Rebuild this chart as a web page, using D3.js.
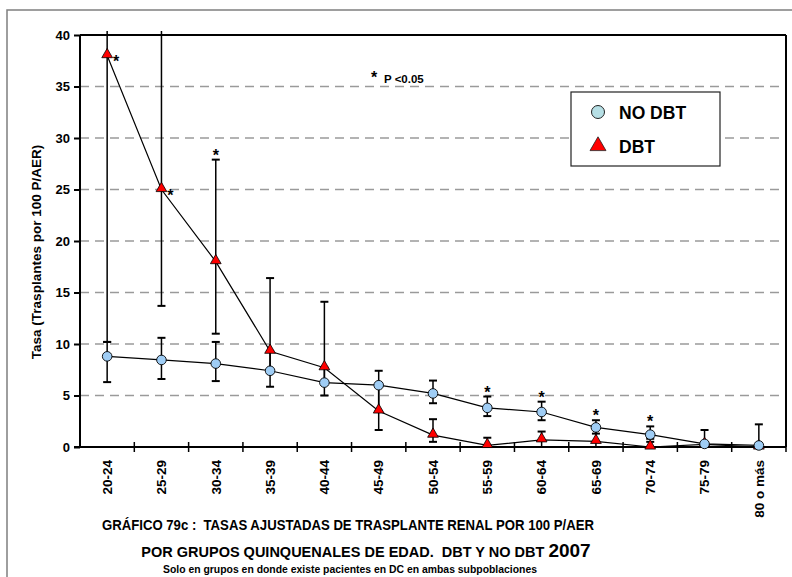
<!DOCTYPE html>
<html>
<head>
<meta charset="utf-8">
<script src="https://cdn.jsdelivr.net/npm/d3@7"></script>
<style>
  html, body { margin: 0; padding: 0; background: #fff; }
  svg { display: block; }
  text { font-family: "Liberation Sans", Arial, sans-serif; font-weight: bold; fill: #000; white-space: pre; }
  .narrow { font-family: "Liberation Sans Narrow", "Arial Narrow", "Liberation Sans", sans-serif; font-stretch: condensed; }
</style>
</head>
<body>
<svg id="chart" width="792" height="577"></svg>
<script>
// ---------------- data ----------------
const categories = ["20-24","25-29","30-34","35-39","40-44","45-49","50-54","55-59","60-64","65-69","70-74","75-79","80 o más"];
const noDbt     = [8.8, 8.45, 8.1, 7.4, 6.25, 6.0, 5.2, 3.8, 3.4, 1.9, 1.2, 0.3, 0.15];
const noDbtLow  = [6.3, 6.6, 6.4, 5.85, 5.0, 3.5, 4.25, 3.0, 2.6, 1.3, 0.8, 0, 0];
const noDbtHigh = [10.2, 10.6, 10.2, 9.3, 7.7, 7.4, 6.45, 4.9, 4.4, 2.6, 2.0, 1.65, 2.2];
const dbt       = [38, 25, 18, 9.3, 7.7, 3.5, 1.15, 0.15, 0.7, 0.55, 0.0, 0.25, 0.0];
const dbtLow    = [10.2, 13.7, 11.0, 7.4, 6.25, 1.65, 0.5, 0, 0, 0, 0, 0.25, 0];
const dbtHigh   = [45, 45, 27.9, 16.4, 14.1, 6.0, 2.7, 0.9, 1.5, 1.9, 0.5, 0.25, 0];
const starsDbtSide  = ["20-24", "25-29"];
const starsDbtAbove = ["30-34"];
const starsNoDbtAbove = ["55-59", "60-64", "65-69", "70-74"];
const yTicks = [0, 5, 10, 15, 20, 25, 30, 35, 40];
const gridTicks = [5, 10, 15, 20, 25, 30, 35];
const legendLabels = ["NO DBT", "DBT"];
const yTitle = "Tasa (Trasplantes por 100 P/AER)";
const title1 = "GRÁFICO 79c :  TASAS AJUSTADAS DE TRASPLANTE RENAL POR 100 P/AER";
const title2 = "POR GRUPOS QUINQUENALES DE EDAD.  DBT Y NO DBT ";
const title2Year = "2007";
const title3 = "Solo en grupos en donde existe pacientes en DC en ambas subpoblaciones";
const pNote = "P <0.05";

// ---------------- layout ----------------
const svg = d3.select("#chart");
const L = 80, R = 786, T = 35, B = 447;
const x = d3.scaleBand().domain(categories).range([L, R]).paddingInner(0).paddingOuter(0);
const y = d3.scaleLinear().domain([0, 40]).range([B, T]);
const cx = c => x(c) + x.bandwidth() / 2;

// outer frame
svg.append("rect").attr("x", 7).attr("y", 10).attr("width", 800).attr("height", 600)
  .attr("fill", "none").attr("stroke", "#7f7f7f").attr("stroke-width", 1.5);

// clip
svg.append("clipPath").attr("id", "clipPlot").append("rect")
  .attr("x", L - 10).attr("y", T - 4).attr("width", R - L + 20).attr("height", B - T + 14);

// gridlines
svg.append("g").selectAll("line").data(gridTicks).join("line")
  .attr("x1", L).attr("x2", R).attr("y1", d => y(d)).attr("y2", d => y(d))
  .attr("stroke", "#9a9a9a").attr("stroke-width", 1.6).attr("stroke-dasharray", "9,6");

// plot frame top/right
svg.append("line").attr("x1", L).attr("x2", R).attr("y1", T).attr("y2", T).attr("stroke", "#000").attr("stroke-width", 2);
svg.append("line").attr("x1", R).attr("x2", R).attr("y1", T).attr("y2", B).attr("stroke", "#000").attr("stroke-width", 2);

// y axis
const yAxis = svg.append("g").attr("transform", `translate(${L},0)`)
  .call(d3.axisLeft(y).tickValues(yTicks).tickSize(6).tickPadding(4).tickFormat(d3.format("d")));
yAxis.select(".domain").attr("stroke", "#000").attr("stroke-width", 2).attr("d", `M0,${T}V${B}`);
yAxis.selectAll(".tick line").attr("stroke", "#000").attr("stroke-width", 2);
yAxis.selectAll(".tick text").style("font-family", "'Liberation Sans', Arial, sans-serif")
  .style("font-weight", "bold").style("font-size", "13px").attr("fill", "#000");

// x axis line + ticks at category boundaries
svg.append("line").attr("x1", L - 6).attr("x2", R).attr("y1", B).attr("y2", B).attr("stroke", "#000").attr("stroke-width", 2);
const bounds = categories.map(c => x(c)).concat([x(categories[categories.length - 1]) + x.bandwidth()]);
svg.append("g").selectAll("line").data(bounds.slice(1)).join("line")
  .attr("x1", d => d).attr("x2", d => d).attr("y1", B - 5).attr("y2", B + 5)
  .attr("stroke", "#000").attr("stroke-width", 1.5);

// x labels
svg.append("g").selectAll("text").data(categories).join("text")
  .attr("transform", d => `translate(${cx(d)},${B + 13}) rotate(-90)`)
  .attr("text-anchor", "end").attr("dy", "0.35em")
  .style("font-size", "13.5px").text(d => d);

// y title
svg.append("text").attr("transform", `translate(41,252) rotate(-90)`)
  .attr("text-anchor", "middle").style("font-size", "13.5px").text(yTitle);

// ---------------- series ----------------
const gData = svg.append("g").attr("clip-path", "url(#clipPlot)");
const idx = d3.range(categories.length);

function errorBars(vals, lows, highs) {
  const g = gData.append("g").attr("stroke", "#000").attr("stroke-width", 1.5);
  idx.forEach(i => {
    const c = categories[i];
    g.append("line").attr("x1", cx(c)).attr("x2", cx(c)).attr("y1", y(lows[i])).attr("y2", y(highs[i]));
    [lows[i], highs[i]].forEach(v => {
      if (v !== vals[i]) g.append("line").attr("x1", cx(c) - 4).attr("x2", cx(c) + 4).attr("y1", y(v)).attr("y2", y(v)).attr("stroke-width", 2);
    });
  });
}
errorBars(dbt, dbtLow, dbtHigh);
errorBars(noDbt, noDbtLow, noDbtHigh);

const line = d3.line().x((d, i) => cx(categories[i])).y(d => y(d));
gData.append("path").datum(dbt).attr("d", line).attr("fill", "none").attr("stroke", "#000").attr("stroke-width", 1.2);
gData.append("path").datum(noDbt).attr("d", line).attr("fill", "none").attr("stroke", "#000").attr("stroke-width", 1.2);

const tri = d3.symbol().type(d3.symbolTriangle).size(50);
gData.append("g").selectAll("path").data(dbt).join("path")
  .attr("transform", (d, i) => `translate(${cx(categories[i])},${y(d) - 1})`)
  .attr("d", tri).attr("fill", "#ff0000").attr("stroke", "#000").attr("stroke-width", 0.8);

gData.append("g").selectAll("circle").data(noDbt).join("circle")
  .attr("cx", (d, i) => cx(categories[i])).attr("cy", d => y(d)).attr("r", 4.8)
  .attr("fill", "#9fcdf5").attr("stroke", "#000").attr("stroke-width", 0.9);

// stars
const star = (xx, yy) => svg.append("text").attr("x", xx).attr("y", yy).attr("text-anchor", "middle").style("font-size", "16px").text("*");
starsDbtSide.forEach(c => { const i = categories.indexOf(c); star(cx(c) + 9, y(dbt[i]) + 11); });
starsDbtAbove.forEach(c => { const i = categories.indexOf(c); star(cx(c), y(dbtHigh[i]) + 1); });
starsNoDbtAbove.forEach(c => { const i = categories.indexOf(c); star(cx(c), y(noDbtHigh[i]) + 1); });

// p note
svg.append("text").attr("x", 374).attr("y", 83).attr("text-anchor", "middle").style("font-size", "16px").text("*");
svg.append("text").attr("x", 384).attr("y", 83).style("font-size", "11.5px").text(pNote);

// legend
const lg = svg.append("g");
lg.append("rect").attr("x", 571).attr("y", 92).attr("width", 149).attr("height", 74)
  .attr("fill", "#fff").attr("stroke", "#222").attr("stroke-width", 1.2);
lg.append("circle").attr("cx", 598).attr("cy", 112).attr("r", 6.5)
  .attr("fill", "#b6dfe5").attr("stroke", "#222").attr("stroke-width", 1);
lg.append("path").attr("transform", "translate(598,146)").attr("d", d3.symbol().type(d3.symbolTriangle).size(110))
  .attr("fill", "#ff0000").attr("stroke", "#222").attr("stroke-width", 0.8);
lg.selectAll("text.lab").data(legendLabels).join("text").attr("class", "lab")
  .attr("x", 619).attr("y", (d, i) => 119 + i * 34).style("font-size", "17.5px").text(d => d);

// titles
svg.append("text").attr("class", "narrow").attr("x", 348).attr("y", 530).attr("text-anchor", "middle")
  .style("font-size", "15px").attr("textLength", 492).attr("lengthAdjust", "spacingAndGlyphs").text(title1);
const t2 = svg.append("text").attr("class", "narrow").attr("x", 366).attr("y", 557).attr("text-anchor", "middle");
t2.append("tspan").style("font-size", "14.5px").text(title2);
t2.append("tspan").style("font-size", "19px").text(title2Year);
svg.append("text").attr("class", "narrow").attr("x", 350).attr("y", 573).attr("text-anchor", "middle")
  .style("font-size", "11px").attr("textLength", 374).attr("lengthAdjust", "spacingAndGlyphs").text(title3);
</script>
</body>
</html>
